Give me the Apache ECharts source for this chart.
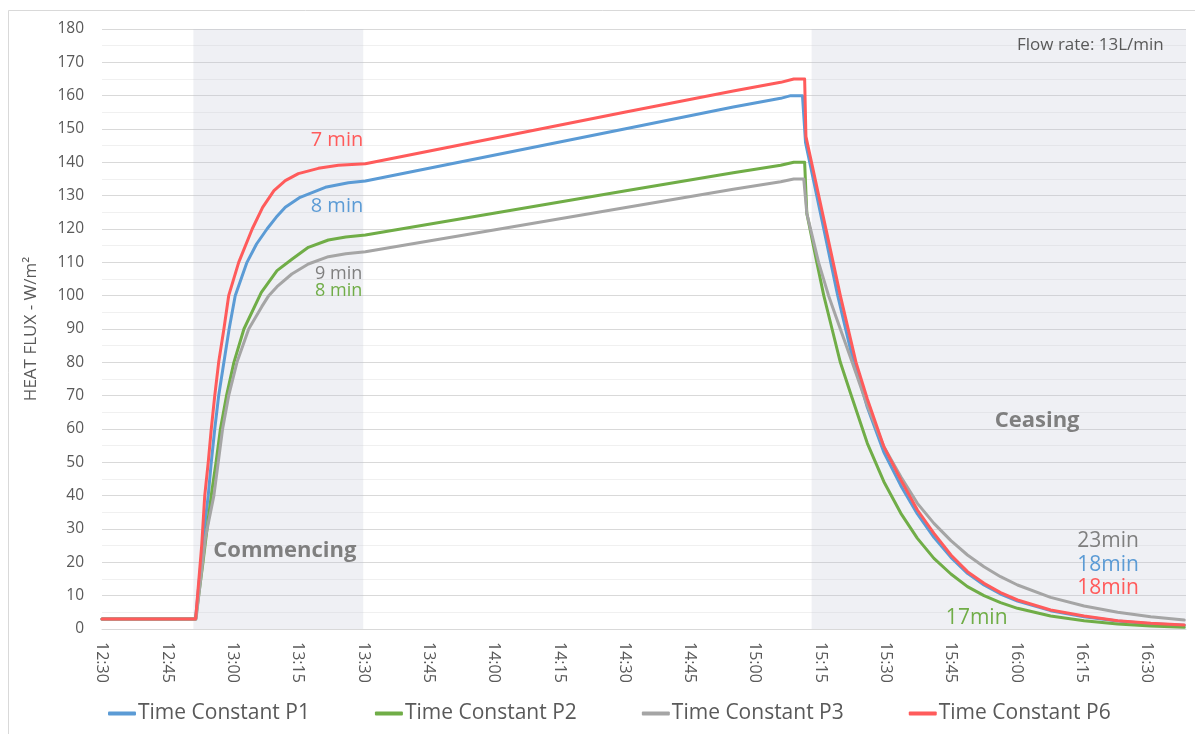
<!DOCTYPE html>
<html>
<head>
<meta charset="utf-8">
<script src="https://cdn.jsdelivr.net/npm/echarts@6/dist/echarts.min.js"></script>
<style>
  html, body { margin: 0; padding: 0; background: #ffffff; }
  #chart { width: 1195px; height: 734px; }
</style>
</head>
<body>
<div id="chart"></div>
<script>
// Time is expressed in minutes after midnight (750 = 12:30).
const seriesNames = ['Time Constant P1', 'Time Constant P2', 'Time Constant P3', 'Time Constant P6'];

// P1
const p1Time = [750, 771.5, 773.3, 774.4, 775.1, 775.9, 776.8, 778.0, 779.2, 780.6, 783.3, 785.5, 787.9, 790.0, 792.1, 795.5, 801.3, 806.6, 810.5,
  840, 870, 895, 905.9, 908.2, 910.9, 911.6, 915.8, 919.0, 922.0, 925.8, 929.6, 933.5, 937.3, 941.1, 945.0, 948.8, 952.6, 956.4, 960.3, 967.9, 975.6, 983.3, 990.9, 998.6];
const p1Flux = [3, 3, 27.7, 40, 50, 60, 70, 80, 90, 100, 110, 115.5, 120, 123.5, 126.5, 129.5, 132.5, 133.9, 134.4,
  142.1, 150.0, 156.6, 159.2, 160, 160, 146, 120, 100, 83.5, 66.5, 53, 43, 34.5, 27.5, 21.5, 16.7, 13.2, 10.5, 8.4, 5.5, 3.7, 2.4, 1.6, 1.1];

// P2
const p2Time = [750, 771.5, 773.2, 774.4, 775.3, 776.2, 777.2, 778.6, 780.3, 782.6, 786.6, 790.2, 793.7, 797.4, 802.0, 806.0, 810.5,
  840, 870, 895, 905.9, 908.9, 911.4, 911.9, 914.2, 915.8, 917.7, 919.6, 922.0, 925.8, 929.6, 933.5, 937.3, 941.1, 945.0, 948.8, 952.6, 956.4, 960.3, 967.9, 975.6, 983.3, 990.9, 998.6];
const p2Flux = [3, 3, 20, 33, 42, 50, 60, 70, 80, 90, 101, 107.5, 111, 114.5, 116.7, 117.6, 118.2,
  124.7, 131.4, 136.9, 139.1, 140, 140, 124.7, 110, 100, 90, 80, 70.5, 55.7, 44.2, 34.7, 27.2, 21.2, 16.5, 12.7, 10, 7.9, 6.2, 3.9, 2.5, 1.5, 0.9, 0.5];

// P3
const p3Time = [750, 771.6, 773.8, 775.7, 776.7, 777.7, 779.1, 781.0, 783.7, 786.7, 788.3, 790.2, 793.6, 797.4, 802.0, 806.0, 810.5,
  840, 870, 895, 905.9, 908.9, 911.2, 911.9, 914.6, 916.9, 919.6, 922.2, 925.8, 929.6, 933.5, 937.3, 941.1, 945.0, 948.8, 952.6, 956.4, 960.3, 967.9, 975.6, 983.3, 990.9, 998.6];
const p3Flux = [3, 3, 27.7, 40, 50, 60, 70, 80, 90, 96.7, 100, 102.7, 106.5, 109.5, 111.7, 112.6, 113.2,
  119.7, 126.4, 131.9, 134.2, 135, 135, 124.7, 110, 100, 90, 80.5, 67, 54.7, 45.7, 37.7, 31.7, 26.5, 22.2, 18.7, 15.7, 13.2, 9.5, 6.9, 5, 3.7, 2.7];

// P6
const p6Time = [750, 771.5, 772.9, 773.6, 774.4, 775.1, 775.9, 776.8, 778.0, 779.1, 781.4, 784.5, 786.9, 789.5, 792.1, 795.1, 799.7, 804.3, 810.5,
  840, 870, 895, 905.9, 908.9, 911.4, 911.7, 916.3, 919.6, 923.2, 925.8, 929.6, 933.5, 937.3, 941.1, 945.0, 948.8, 952.6, 956.4, 960.3, 967.9, 975.6, 983.3, 990.9, 998.6];
const p6Flux = [3, 3, 25, 40, 50, 60, 70, 80, 90, 100, 110, 120, 126.5, 131.5, 134.5, 136.6, 138.2, 139.1, 139.6,
  147.2, 155.0, 161.4, 164, 165, 165, 147.7, 120, 100, 80, 69, 54.7, 44.7, 35.7, 28.7, 22.2, 17.2, 13.7, 10.9, 8.7, 5.7, 3.9, 2.5, 1.7, 1.2];

// Shaded phases (start, end)
const commencingSpan = [771, 810];
const ceasingSpan = [913, 999];

const axisStart = 750;   // 12:30
const axisEnd = 999;
const tickStep = 15;

const palette = { p1: '#5b9bd5', p2: '#70ad47', p3: '#a5a5a5', p6: '#ff5b5b', note: '#7f7f7f', text: '#595959' };

// Text notes placed at chart coordinates [time, flux]
const notes = [
  { text: '7 min', at: [810, 146.7], align: 'right', color: palette.p6, size: 20 },
  { text: '8 min', at: [810, 126.9], align: 'right', color: palette.p1, size: 20 },
  { text: '9 min', at: [809.8, 106.5], align: 'right', color: palette.note, size: 18 },
  { text: '8 min', at: [809.8, 101.5], align: 'right', color: palette.p2, size: 18 },
  { text: 'Commencing', at: [792.0, 23.4], align: 'center', color: palette.note, size: 22, weight: 'bold' },
  { text: 'Ceasing', at: [964.8, 62.4], align: 'center', color: palette.note, size: 22, weight: 'bold' },
  { text: 'Flow rate: 13L/min', at: [993.9, 175.2], align: 'right', color: palette.text, size: 17 },
  { text: '23min', at: [988.2, 26.5], align: 'right', color: palette.note, size: 21 },
  { text: '18min', at: [988.2, 19.2], align: 'right', color: palette.p1, size: 21 },
  { text: '18min', at: [988.2, 12.2], align: 'right', color: palette.p6, size: 21 },
  { text: '17min', at: [958.0, 3.2], align: 'right', color: palette.p2, size: 21 }
];

const FONT = '"Open Sans", "Noto Sans", sans-serif';

function pairs(times, values) {
  return times.map((t, i) => [t, values[i]]);
}

function clock(v) {
  const h = Math.floor(v / 60);
  const m = Math.round(v - h * 60);
  return h + ':' + (m < 10 ? '0' + m : m);
}

function lineSeries(name, color, data, extra) {
  return Object.assign({
    name: name,
    type: 'line',
    data: data,
    showSymbol: false,
    smooth: false,
    lineStyle: { color: color, width: 3, join: 'round', cap: 'round' },
    itemStyle: { color: color },
    emphasis: { disabled: true }
  }, extra || {});
}

const chart = echarts.init(document.getElementById('chart'), null, { renderer: 'canvas' });

const option = {
  animation: false,
  backgroundColor: '#ffffff',
  textStyle: { fontFamily: FONT },
  grid: { left: 102, right: 9, top: 29, bottom: 105, containLabel: false },
  xAxis: {
    type: 'value',
    min: axisStart,
    max: axisEnd,
    interval: tickStep,
    axisLine: { show: true, lineStyle: { color: '#d9d9d9', width: 1 } },
    axisTick: { show: false },
    splitLine: { show: false },
    axisLabel: {
      rotate: -90,
      margin: 13,
      fontSize: 16,
      color: palette.text,
      fontFamily: FONT,
      showMaxLabel: false,
      formatter: function (v) { return (Math.round(v) - axisStart) % tickStep === 0 ? clock(v) : ''; }
    }
  },
  yAxis: {
    type: 'value',
    min: 0,
    max: 180,
    interval: 10,
    name: 'HEAT FLUX - W/m²',
    nameLocation: 'middle',
    nameRotate: 90,
    nameGap: 62,
    nameTextStyle: { fontSize: 17, color: palette.text, fontFamily: FONT },
    axisLine: { show: false },
    axisTick: { show: false },
    axisLabel: { fontSize: 15.5, color: palette.text, margin: 18, fontFamily: FONT },
    splitLine: { show: true, lineStyle: { color: '#d9d9d9', width: 1 } },
    minorTick: { show: false, splitNumber: 2 },
    minorSplitLine: { show: true, lineStyle: { color: '#f0f0f0', width: 1 } }
  },
  legend: {
    data: seriesNames,
    left: 103,
    top: 698,
    itemWidth: 28,
    itemHeight: 4,
    itemGap: 65,
    icon: 'roundRect',
    textStyle: { fontSize: 21, color: palette.text, fontFamily: FONT, padding: [0, 0, 0, -3] },
    selectedMode: false
  },
  series: [
    lineSeries(seriesNames[0], palette.p1, pairs(p1Time, p1Flux), {
      markArea: {
        silent: true,
        itemStyle: { color: 'rgba(191,195,211,0.25)' },
        data: [
          [{ xAxis: commencingSpan[0], yAxis: 0 }, { xAxis: commencingSpan[1], yAxis: 180 }],
          [{ xAxis: ceasingSpan[0], yAxis: 0 }, { xAxis: ceasingSpan[1], yAxis: 180 }]
        ]
      }
    }),
    lineSeries(seriesNames[1], palette.p2, pairs(p2Time, p2Flux)),
    lineSeries(seriesNames[2], palette.p3, pairs(p3Time, p3Flux)),
    lineSeries(seriesNames[3], palette.p6, pairs(p6Time, p6Flux))
  ]
};

chart.setOption(option);

// Notes and the outer frame, positioned through the chart's own coordinate system
const graphics = [{
  type: 'rect',
  silent: true,
  shape: { x: 8.5, y: 10.5, width: 1400, height: 900 },
  style: { fill: 'none', stroke: '#d9d9d9', lineWidth: 1 },
  z: 0
}];
notes.forEach(function (n) {
  const p = chart.convertToPixel({ gridIndex: 0 }, n.at);
  graphics.push({
    type: 'text',
    silent: true,
    x: p[0],
    y: p[1],
    z: 100,
    style: {
      text: n.text,
      fill: n.color,
      font: (n.weight || 'normal') + ' ' + n.size + 'px ' + FONT,
      align: n.align,
      verticalAlign: 'middle'
    }
  });
});
chart.setOption({ graphic: graphics });
</script>
</body>
</html>
